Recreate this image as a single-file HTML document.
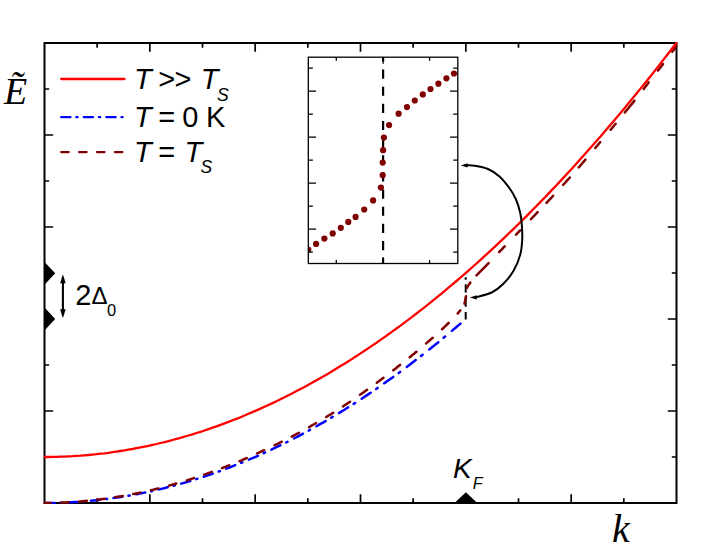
<!DOCTYPE html>
<html><head><meta charset="utf-8"><title>chart</title>
<style>html,body{margin:0;padding:0;background:#fff;}svg{display:block;}body{font-family:"Liberation Sans",sans-serif;}</style></head>
<body>
<svg width="719" height="545" viewBox="0 0 719 545">
<rect x="0" y="0" width="719" height="545" fill="#fff"/>
<defs><clipPath id="cp"><rect x="44.5" y="43.0" width="632.0" height="460.0"/></clipPath><clipPath id="cc"><rect x="43.5" y="42.0" width="634.0" height="462.0"/></clipPath><clipPath id="ci"><rect x="308.3" y="57.2" width="149.5" height="206.3"/></clipPath></defs>
<rect x="44.5" y="43.0" width="632.0" height="460.0" fill="none" stroke="#000" stroke-width="2"/>
<path d="M97.17 503.0v-4.7M97.17 43.0v4.7M149.83 503.0v-8.7M149.83 43.0v8.7M202.50 503.0v-4.7M202.50 43.0v4.7M255.17 503.0v-8.7M255.17 43.0v8.7M307.83 503.0v-4.7M307.83 43.0v4.7M360.50 503.0v-8.7M360.50 43.0v8.7M413.17 503.0v-4.7M413.17 43.0v4.7M465.83 503.0v-8.7M465.83 43.0v8.7M518.50 503.0v-4.7M518.50 43.0v4.7M571.17 503.0v-8.7M571.17 43.0v8.7M623.83 503.0v-4.7M623.83 43.0v4.7M44.5 89.00h4.7M676.5 89.00h-4.7M44.5 135.00h8.7M676.5 135.00h-8.7M44.5 181.00h4.7M676.5 181.00h-4.7M44.5 227.00h8.7M676.5 227.00h-8.7M44.5 273.00h4.7M676.5 273.00h-4.7M44.5 319.00h8.7M676.5 319.00h-8.7M44.5 365.00h4.7M676.5 365.00h-4.7M44.5 411.00h8.7M676.5 411.00h-8.7M44.5 457.00h4.7M676.5 457.00h-4.7" stroke="#000" stroke-width="1.7" fill="none"/>
<path d="M465.7 277.3V279.7M465.7 284.3V292.6M465.7 297V306.7M465.7 311.9V319.6" stroke="#000" stroke-width="2" fill="none"/>
<g fill="none" stroke-linecap="round" stroke-linejoin="round" clip-path="url(#cc)">
<path d="M45.7 503.0L47.5 503.0L49.3 503.0L51.1 503.0L52.9 502.9L54.7 502.9M60.8 502.7L62.0 502.7M68.3 502.4L70.1 502.3L71.9 502.2L73.7 502.1L75.5 502.0L77.3 501.9M83.4 501.4L84.5 501.3M90.9 500.8L92.7 500.6L94.5 500.4L96.3 500.2L98.1 500.0L99.9 499.8M106.0 499.1L107.1 498.9M113.5 498.1L115.3 497.8L117.1 497.5L118.9 497.3L120.7 497.0L122.5 496.7M128.5 495.7L129.7 495.5M136.0 494.3L137.8 494.0L139.6 493.6L141.5 493.3L143.3 492.9L145.1 492.5M151.1 491.2L152.2 491.0M158.6 489.5L160.4 489.1L162.2 488.6L164.0 488.2L165.8 487.7L167.6 487.3M173.6 485.7L174.8 485.4M181.2 483.6L183.0 483.1L184.8 482.6L186.6 482.1L188.4 481.5L190.2 481.0M196.2 479.1L197.3 478.8M203.7 476.7L205.5 476.1L207.4 475.5L209.2 474.9L211.0 474.3L212.8 473.6M218.7 471.5L219.9 471.1M226.3 468.7L228.1 468.0L229.9 467.3L231.7 466.7L233.5 465.9L235.3 465.2M241.2 462.9L242.4 462.4M248.9 459.7L250.7 458.9L252.5 458.1L254.3 457.4L256.1 456.6L257.9 455.8M263.7 453.2L265.0 452.6M271.4 449.6L273.2 448.7L275.0 447.9L276.8 447.0L278.6 446.1L280.4 445.3M286.2 442.4L287.5 441.8M294.0 438.5L295.8 437.5L297.6 436.6L299.4 435.6L301.2 434.7L303.0 433.7M308.7 430.6L310.0 429.9M316.5 426.3L318.3 425.2L320.1 424.2L322.0 423.2L323.8 422.1L325.6 421.1M331.2 417.8L332.6 416.9M339.1 413.0L340.9 411.9L342.7 410.8L344.5 409.7L346.3 408.5L348.1 407.4M353.7 403.9L355.1 403.0M361.7 398.7L363.5 397.5L365.3 396.3L367.1 395.1L368.9 393.9L370.7 392.7M376.2 388.9L377.6 387.9M384.2 383.3L386.0 382.1L387.8 380.8L389.6 379.5L391.4 378.2L393.2 376.9M398.7 372.9L400.1 371.9M406.8 366.9L408.6 365.6L410.4 364.2L412.2 362.8L413.9 361.5L415.7 360.1M421.1 355.9L422.6 354.7M429.3 349.4L431.1 348.0L432.9 346.6L434.7 345.1L436.5 343.7L438.3 342.2M443.6 337.8L445.1 336.6M451.9 330.9L453.6 329.4L455.3 328.0L457.0 326.5L458.7 325.1L460.4 323.6" stroke="#0000ff" stroke-width="2.5"/>
<path d="M44.5 503.0L45.5 503.0L46.5 503.0L47.5 503.0L48.5 503.0L49.5 502.9L50.5 502.9L50.8 502.9M61.2 502.6L62.5 502.5L63.8 502.5L65.0 502.4L66.2 502.4L67.5 502.3L68.8 502.2M79.2 501.5L80.5 501.4L81.8 501.3L83.0 501.2L84.2 501.1L85.5 501.0L86.8 500.8M97.2 499.7L98.5 499.6L99.8 499.4L101.0 499.3L102.2 499.1L103.5 498.9L104.8 498.8M115.2 497.2L116.5 497.0L117.8 496.8L119.0 496.6L120.2 496.4L121.5 496.2L122.8 496.0M133.2 494.0L134.5 493.8L135.8 493.5L137.0 493.3L138.2 493.0L139.5 492.8L140.5 492.6M151.0 490.2L152.2 489.9L153.5 489.6L154.8 489.3L156.0 489.0L157.2 488.7L158.5 488.4M169.0 485.6L170.2 485.2L171.5 484.9L172.8 484.5L174.0 484.2L175.2 483.8L176.2 483.5M186.8 480.4L188.0 480.0L189.2 479.6L190.5 479.2L191.8 478.8L193.0 478.4L194.0 478.0M204.2 474.6L205.5 474.1L206.8 473.7L208.0 473.3L209.2 472.8L210.5 472.4L211.8 471.9M222.0 468.1L223.2 467.6L224.5 467.2L225.8 466.7L227.0 466.2L228.2 465.7L229.2 465.3M239.5 461.1L240.8 460.6L242.0 460.1L243.2 459.5L244.5 459.0L245.8 458.5L246.8 458.0M257.0 453.5L258.2 452.9L259.5 452.4L260.8 451.8L262.0 451.2L263.2 450.6L264.2 450.2M274.5 445.3L275.8 444.7L277.0 444.1L278.2 443.5L279.5 442.8L280.8 442.2L281.8 441.7M291.8 436.6L293.0 435.9L294.2 435.3L295.5 434.6L296.8 433.9L298.0 433.3L299.0 432.7M309.0 427.2L310.0 426.6L311.0 426.0L312.0 425.4L313.0 424.9L314.0 424.3L315.0 423.7L316.0 423.1M326.2 417.0L327.2 416.4L328.2 415.8L329.2 415.2L330.2 414.6L331.2 414.0L332.2 413.4L333.2 412.7M343.0 406.4L344.0 405.7L345.0 405.0L346.0 404.4L347.0 403.7L348.0 403.0L349.0 402.4L350.0 401.7M360.0 394.8L361.0 394.1L362.0 393.4L363.0 392.7L364.0 392.0L365.0 391.3L366.0 390.6L367.0 389.8M376.8 382.7L377.8 382.0L378.8 381.3L379.8 380.5L380.8 379.8L381.8 379.0L382.7 378.3L383.5 377.7M393.3 370.2L394.3 369.4L395.3 368.7L396.3 367.9L397.3 367.1L398.3 366.3L399.3 365.5L400.1 364.9M409.7 357.2L410.7 356.4L411.7 355.6L412.7 354.8L413.7 354.0L414.7 353.2L415.7 352.3L416.5 351.7M426.1 343.5L427.1 342.6L428.1 341.8L429.1 340.9L430.1 340.0L431.1 339.1L432.1 338.2L432.7 337.7M442.1 329.2L443.1 328.3L444.1 327.3L445.1 326.4L446.1 325.4L447.1 324.5L448.1 323.5L448.7 322.9M457.8 313.4L458.2 312.9L458.6 312.5L459.0 312.0L459.4 311.5L459.8 311.0L460.2 310.5L460.3 310.4M464.5 303.6L465.2 300.6L465.7 298.0L466.0 296.2M467.1 287.9L467.5 286.9L468.0 285.8L468.5 285.2L468.9 284.5L469.4 283.9L469.9 283.3L470.3 282.6M476.5 275.4L478.2 273.7L479.9 271.9L481.7 270.1L483.4 268.4L485.2 266.6L486.9 264.8L488.6 263.1M499.2 252.0L500.0 251.2L500.8 250.4L501.6 249.6L502.3 248.8L503.1 248.0L503.9 247.1L504.7 246.3M516.0 234.7L516.6 234.1L517.2 233.4L517.8 232.8L518.4 232.2L519.0 231.5L519.6 230.9L520.2 230.3M531.0 219.2L531.9 218.2L532.9 217.2L533.8 216.2L534.8 215.2L535.7 214.2L536.7 213.2L537.6 212.2M546.5 202.9L547.4 201.9L548.4 200.9L549.3 199.8L550.3 198.8L551.2 197.8L552.2 196.8L553.1 195.7M563.1 184.9L564.1 183.8L565.1 182.8L566.0 181.7L567.0 180.7L567.9 179.6L568.9 178.6L569.9 177.5M578.7 167.4L579.7 166.3L580.6 165.2L581.6 164.1L582.5 163.0L583.5 161.9L584.4 160.8L585.4 159.7M595.3 148.0L596.0 147.1L596.7 146.3L597.4 145.4L598.1 144.6L598.8 143.8L599.5 142.9L600.2 142.1M610.6 129.8L611.3 128.9L612.0 128.1L612.7 127.2L613.5 126.4L614.2 125.5L614.9 124.6L615.6 123.8M624.9 112.5L626.2 110.8L627.6 109.2L629.0 107.5L630.3 105.8L631.7 104.1L633.1 102.4L634.4 100.7M643.7 89.0L644.4 88.0L645.1 87.1L645.8 86.2L646.6 85.2L647.3 84.3L648.0 83.4L648.7 82.4M658.0 70.6L658.7 69.7L659.4 68.8L660.1 67.8L660.9 66.9L661.6 65.9L662.3 65.0L663.0 64.1M672.3 51.7L673.0 50.9L673.6 50.0L674.2 49.2L674.8 48.4L675.4 47.5L676.0 46.7L676.7 46.1" stroke="#800000" stroke-width="2.5"/>
<path d="M44.5 457.0L48.5 457.0L52.5 456.9L56.5 456.9L60.5 456.7L64.5 456.6L68.5 456.4L72.5 456.2L76.5 455.9L80.5 455.7L84.5 455.3L88.5 455.0L92.5 454.6L96.5 454.2L100.5 453.7L104.5 453.3L108.5 452.8L112.5 452.2L116.5 451.6L120.5 451.0L124.5 450.4L128.5 449.7L132.5 449.0L136.5 448.2L140.5 447.4L144.5 446.6L148.5 445.8L152.5 444.9L156.5 444.0L160.5 443.0L164.5 442.1L168.5 441.1L172.5 440.0L176.5 438.9L180.5 437.8L184.5 436.7L188.5 435.5L192.5 434.3L196.5 433.0L200.5 431.8L204.5 430.5L208.5 429.1L212.5 427.7L216.5 426.3L220.5 424.9L224.5 423.4L228.5 421.9L232.5 420.3L236.5 418.8L240.5 417.2L244.5 415.5L248.5 413.8L252.5 412.1L256.5 410.4L260.5 408.6L264.5 406.8L268.5 405.0L272.5 403.1L276.5 401.2L280.5 399.2L284.5 397.3L288.5 395.3L292.5 393.2L296.5 391.1L300.5 389.0L304.5 386.9L308.5 384.7L312.5 382.5L316.5 380.3L320.5 378.0L324.5 375.7L328.5 373.4L332.5 371.0L336.5 368.6L340.5 366.1L344.5 363.7L348.5 361.2L352.5 358.6L356.5 356.1L360.5 353.4L364.5 350.8L368.5 348.1L372.5 345.4L376.5 342.7L380.5 339.9L384.5 337.1L388.5 334.3L392.5 331.4L396.5 328.5L400.5 325.6L404.5 322.6L408.5 319.6L412.5 316.6L416.5 313.5L420.5 310.4L424.5 307.3L428.5 304.1L432.5 300.9L436.5 297.7L440.5 294.4L444.5 291.1L448.5 287.7L452.5 284.4L456.5 281.0L460.5 277.5L464.5 274.1L468.5 270.6L472.5 267.0L476.5 263.5L480.5 259.9L484.5 256.2L488.5 252.6L492.5 248.9L496.5 245.1L500.5 241.4L504.5 237.6L508.5 233.7L512.5 229.9L516.5 226.0L520.5 222.0L524.5 218.1L528.5 214.1L532.5 210.0L536.5 206.0L540.5 201.9L544.5 197.8L548.5 193.6L552.5 189.4L556.5 185.2L560.5 180.9L564.5 176.6L568.5 172.3L572.5 167.9L576.5 163.5L580.5 159.1L584.5 154.6L588.5 150.1L592.5 145.6L596.5 141.0L600.5 136.4L604.5 131.8L608.5 127.1L612.5 122.4L616.5 117.7L620.5 112.9L624.5 108.2L628.5 103.3L632.5 98.5L636.5 93.6L640.5 88.6L644.5 83.7L648.5 78.7L652.5 73.7L656.5 68.6L660.5 63.5L664.5 58.4L668.5 53.2L672.5 48.0L676.5 42.8" stroke="#ff0000" stroke-width="2.3"/>
</g>
<g clip-path="url(#cp)" fill="#000">
<path d="M33.8 273.3L44.5 261.90000000000003L55.2 273.3L44.5 284.7Z"/>
<path d="M33.8 319.0L44.5 307.6L55.2 319.0L44.5 330.4Z"/>
<path d="M454.5 503.0L465.9 492.3L477.29999999999995 503.0L465.9 513.7Z"/>
</g>
<g fill="none" stroke-linecap="round">
<path d="M61.2 79H124.5" stroke="#ff0000" stroke-width="2.3"/>
<path d="M61.2 117.2H122.6" stroke="#0000ff" stroke-width="2.3" stroke-dasharray="9.20 5.90 1.30 6.20"/>
<path d="M61.2 152.1H122.6" stroke="#800000" stroke-width="2.3" stroke-dasharray="7.50 10.40"/>
</g>
<g font-family="&quot;Liberation Sans&quot;, sans-serif" fill="#000">
<text y="88.9" font-size="29"><tspan x="134" font-style="italic">T</tspan><tspan x="158.2">&gt;</tspan><tspan x="174.5">&gt;</tspan><tspan x="200.8" font-style="italic">T</tspan></text>
<text x="217" y="100.5" font-size="17.5" font-style="italic">S</text>
<text y="127.3" font-size="29"><tspan x="134" font-style="italic">T</tspan><tspan x="158.2">=</tspan><tspan x="182.2">0</tspan><tspan x="206">K</tspan></text>
<text y="162.1" font-size="29"><tspan x="134" font-style="italic">T</tspan><tspan x="158.2">=</tspan><tspan x="184.4" font-style="italic">T</tspan></text>
<text x="200.5" y="172.9" font-size="17.5" font-style="italic">S</text>
<text x="75.3" y="304.5" font-size="29">2</text>
<text x="91.5" y="304.4" font-size="24">Δ</text>
<text x="106.9" y="315.6" font-size="16.5">0</text>
<text x="453" y="477.8" font-size="28" font-style="italic">K</text>
<text x="472.8" y="488.8" font-size="16.2" font-style="italic">F</text>
</g>
<path d="M62.9 280V312.5" stroke="#000" stroke-width="2.1" fill="none"/>
<path d="M62.9 274.2L65.7 283.2H60.1ZM62.9 318.2L65.7 309.2H60.1Z" fill="#000"/>
<text x="4" y="104.2" font-family="&quot;Liberation Serif&quot;, serif" font-size="38" font-style="italic" fill="#000">Ẽ</text>
<text x="612" y="542" font-family="&quot;Liberation Serif&quot;, serif" font-size="40" font-style="italic" fill="#000">k</text>
<rect x="308.3" y="57.2" width="149.5" height="206.3" fill="#fff" stroke="none"/>
<path d="M383.1 57.2V263.5" stroke="#000" stroke-width="2.2" stroke-dasharray="9.15 8" stroke-dashoffset="4.85" fill="none"/>
<g fill="#800000" clip-path="url(#ci)">
<circle cx="308.3" cy="249.5" r="3.1"/>
<circle cx="316.1" cy="243.9" r="3.1"/>
<circle cx="324.4" cy="238.6" r="3.1"/>
<circle cx="332.7" cy="233.4" r="3.1"/>
<circle cx="340.8" cy="227.8" r="3.1"/>
<circle cx="348.3" cy="221.9" r="3.1"/>
<circle cx="355.6" cy="216.9" r="3.1"/>
<circle cx="364.2" cy="209.5" r="3.1"/>
<circle cx="373.1" cy="200.4" r="3.1"/>
<circle cx="380.9" cy="187.6" r="3.1"/>
<circle cx="382.7" cy="175.2" r="3.1"/>
<circle cx="382.7" cy="162.6" r="3.1"/>
<circle cx="383.1" cy="150.2" r="3.1"/>
<circle cx="383.9" cy="137.6" r="3.1"/>
<circle cx="389.1" cy="125.1" r="3.1"/>
<circle cx="398.6" cy="113.7" r="3.1"/>
<circle cx="407" cy="107.1" r="3.1"/>
<circle cx="414.8" cy="100.5" r="3.1"/>
<circle cx="422.8" cy="94.4" r="3.1"/>
<circle cx="430.5" cy="89" r="3.1"/>
<circle cx="438.4" cy="83.7" r="3.1"/>
<circle cx="446.4" cy="78.3" r="3.1"/>
<circle cx="454" cy="73.5" r="3.1"/>
</g>
<rect x="308.3" y="57.2" width="149.5" height="206.3" fill="none" stroke="#000" stroke-width="1.3"/>
<path d="M308.3 68.2h4.6M457.8 68.2h-4.6M308.3 91.2h7.8M457.8 91.2h-7.8M308.3 114.2h4.6M457.8 114.2h-4.6M308.3 137.2h7.8M457.8 137.2h-7.8M308.3 160.2h4.6M457.8 160.2h-4.6M308.3 183.2h7.8M457.8 183.2h-7.8M308.3 206.2h4.6M457.8 206.2h-4.6M308.3 229.2h7.8M457.8 229.2h-7.8M308.3 252.2h4.6M457.8 252.2h-4.6M336.3 57.2v3.6M336.3 263.5v-3.6M383.1 57.2v6.6M383.1 263.5v-6.6M429.6 57.2v3.6M429.6 263.5v-3.6" stroke="#000" stroke-width="1.3" fill="none"/>
<path d="M466.0 165.4C467.5 165.4 471.1 165.1 474.8 165.7C478.5 166.3 483.9 167.2 488.0 169.0C492.1 170.8 495.9 173.2 499.5 176.4C503.1 179.6 506.6 184.2 509.4 188.0C512.1 191.8 514.2 195.4 516.0 199.5C517.8 203.6 519.2 208.3 520.2 212.7C521.2 217.1 521.6 221.4 521.9 226.0C522.2 230.6 522.5 235.3 522.2 240.0C521.9 244.7 521.7 249.3 520.3 254.4C518.9 259.5 516.5 265.6 513.7 270.5C510.9 275.4 507.1 280.0 503.4 283.7C499.7 287.4 496.1 290.3 491.7 292.5C487.3 294.7 479.8 296.1 477.0 296.9C474.2 297.7 475.3 297.1 475.0 297.2" stroke="#000" stroke-width="2" fill="none"/>
<path d="M460.7 165.4L467.6 163.2V167.6ZM469.7 297.4L476.9 295.2V299.6Z" fill="#000"/>
</svg>
</body></html>
